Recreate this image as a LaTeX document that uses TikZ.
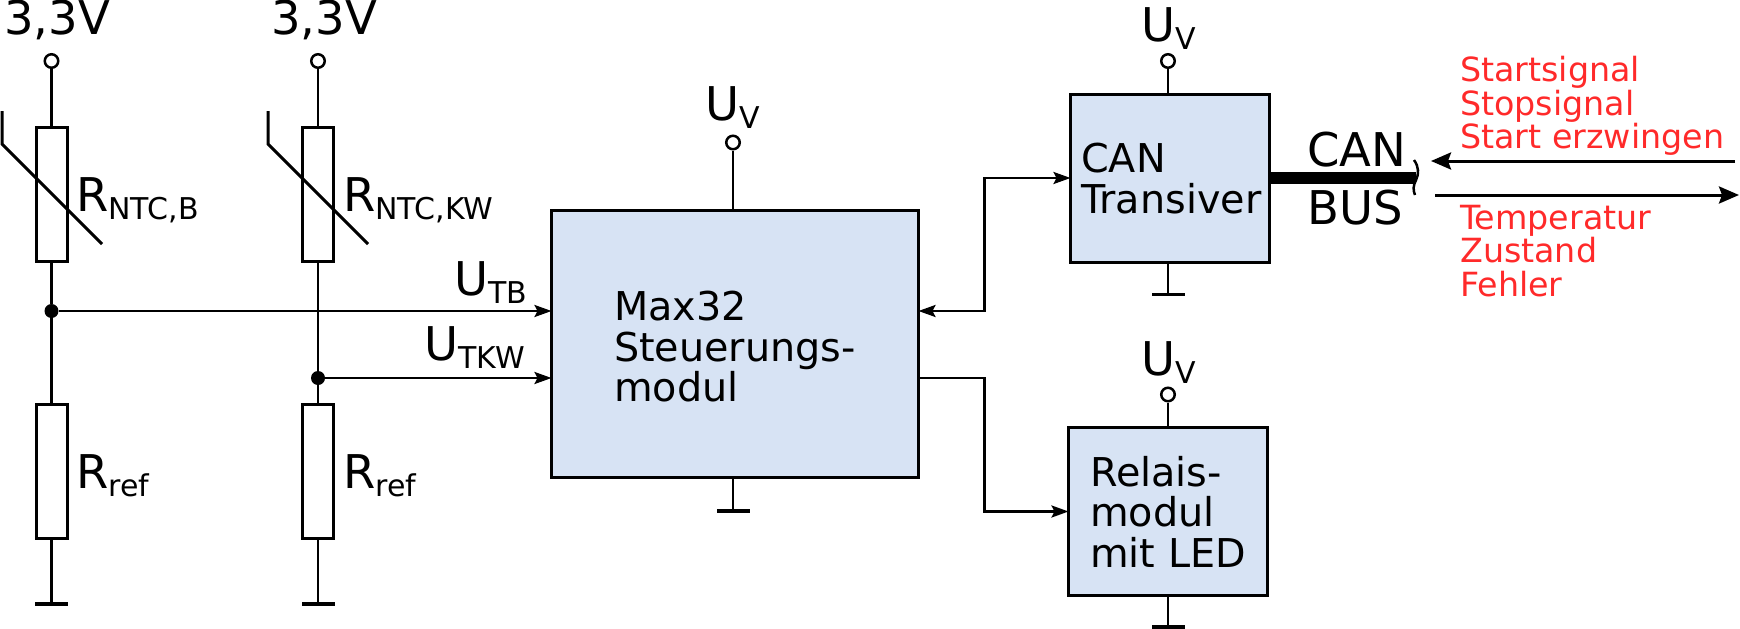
\documentclass[tikz,border=0pt]{standalone}
\usepackage{fontspec}
\setmainfont{DejaVu Sans}
\usetikzlibrary{arrows.meta,positioning,calc}
\definecolor{boxblue}{HTML}{D7E3F4}
\definecolor{sigred}{HTML}{FF2A2A}
\newcommand{\bigfont}{\fontsize{46.5}{46.5}\selectfont}
\newcommand{\boxfont}{\fontsize{39.7}{40.5}\selectfont}
\newcommand{\sigfont}{\fontsize{33.3}{33.5}\selectfont}
\newcommand{\lowidx}[1]{\raisebox{-8pt}{\fontsize{30}{30}\selectfont #1}}
\tikzset{
  wire/.style={line width=2.5pt},
  sig/.style={wire, -{Stealth[length=17pt,width=12pt,inset=3pt]}},
  res/.style={draw, line width=3pt, minimum width=31pt, minimum height=134pt, inner sep=0, outer sep=0},
  term/.style={circle, draw, fill=white, line width=2.5pt, minimum size=13.5pt, inner sep=0},
  dot/.style={circle, fill=black, minimum size=14pt, inner sep=0},
  gnd/.style={fill=black, minimum width=33pt, minimum height=3.5pt, inner sep=0, outer sep=0},
  block/.style={draw, fill=boxblue, line width=3pt, inner sep=0, outer sep=0},
  lbl/.style={anchor=base west, inner sep=0, font=\bigfont},
  boxtxt/.style={anchor=north west, inner sep=0, align=left, font=\boxfont},
  redtxt/.style={anchor=north west, inner sep=0, align=left, font=\sigfont, text=sigred}
}
\begin{document}
\begin{tikzpicture}[x=1pt,y=-1pt]
    \useasboundingbox (0,0) rectangle (1740,629);
    % Left divider
    \node[term] (v1) at (51.5,61) {};
    \node[res] (ntc1) at (51.5,194.5) {};
    \node[dot] (j1) at (51.5,311) {};
    \node[res] (ref1) at (51.5,471) {};
    \node[gnd] (g1) at (51.5,604) {};
    \draw[wire] (v1) -- (ntc1.north);
    \draw[wire] (ntc1.south) -- (j1) -- (ref1.north);
    \draw[wire] (ref1.south) -- (g1);
    \draw[line width=3pt] (2,111) -- (2,144) -- (102,244);
    \node[lbl] (v1txt) at (4,34) {3,3V};
    \node[lbl] (ntc1txt) at (76,211) {R\lowidx{NTC,B}};
    \node[lbl] (ref1txt) at (76,488) {R\lowidx{ref}};
    % Right divider
    \node[term] (v2) at (318,61) {};
    \node[res] (ntc2) at (318,194.5) {};
    \node[dot] (j2) at (318,378) {};
    \node[res] (ref2) at (318,471) {};
    \node[gnd] (g2) at (318,604) {};
    \draw[wire] (v2) -- (ntc2.north);
    \draw[wire] (ntc2.south) -- (j2) -- (ref2.north);
    \draw[wire] (ref2.south) -- (g2);
    \draw[line width=3pt] (268,111) -- (268,144) -- (368,244);
    \node[lbl] (v2txt) at (271,34) {3,3V};
    \node[lbl] (ntc2txt) at (343,211) {R\lowidx{NTC,KW}};
    \node[lbl] (ref2txt) at (343,488) {R\lowidx{ref}};
    % Controller
    \node[block, minimum width=367pt, minimum height=267pt] (max) at (735,344) {};
    \node[boxtxt] (maxtxt) at (614,291) {Max32\\Steuerungs-\\modul};
    \node[term] (v3) at (733,142.5) {};
    \node[gnd] (g3) at (733,511) {};
    \draw[wire] (v3) -- (v3 |- max.north);
    \draw[wire] (v3 |- max.south) -- (g3);
    \node[lbl] (v3txt) at (705,120) {U\lowidx{V}};
    \coordinate (maxtb) at (max.west |- j1);
    \coordinate (maxtkw) at (max.west |- j2);
    \draw[sig] (j1) -- (maxtb);
    \draw[sig] (j2) -- (maxtkw);
    \node[lbl] (tbtxt) at (454,295) {U\lowidx{TB}};
    \node[lbl] (tkwtxt) at (424,360) {U\lowidx{TKW}};
    % CAN transceiver
    \node[block, minimum width=199pt, minimum height=168pt] (can) at (1170,178) {};
    \node[boxtxt] (cantxt) at (1081,143) {CAN\\Transiver};
    \node[term] (v4) at (1168,61) {};
    \node[gnd] (g4) at (1168,294.5) {};
    \draw[wire] (v4) -- (v4 |- can.north);
    \draw[wire] (v4 |- can.south) -- (g4);
    \node[lbl] (v4txt) at (1141,41) {U\lowidx{V}};
    % Relay
    \node[block, minimum width=199pt, minimum height=168pt] (rel) at (1168,511.5) {};
    \node[boxtxt] (reltxt) at (1090,456) {Relais-\\modul\\mit LED};
    \node[term] (v5) at (1168,394.5) {};
    \node[gnd] (g5) at (1168,627) {};
    \draw[wire] (v5) -- (v5 |- rel.north);
    \draw[wire] (v5 |- rel.south) -- (g5);
    \node[lbl] (v5txt) at (1141,375) {U\lowidx{V}};
    % Links between blocks
    \coordinate (maxcan) at (max.east |- j1);
    \coordinate (maxrel) at (max.east |- j2);
    \draw[wire, {Stealth[length=17pt,width=12pt,inset=3pt]}-{Stealth[length=17pt,width=12pt,inset=3pt]}] (maxcan) -- ++(66,0) |- (can.west);
    \draw[sig] (maxrel) -- ++(66,0) |- (rel.west);
    % Bus
    \coordinate (busend) at (1416,178);
    \draw[line width=12pt] (can.east) -- (busend);
    \draw[line width=2.5pt] (1414,160) .. controls (1419,167) and (1419,174) .. (1416,180) .. controls (1413,186) and (1413,190) .. (1415,195);
    \node[lbl] (cantop) at (1307,166) {CAN};
    \node[lbl] (canbot) at (1307,224) {BUS};
    % Signals
    \coordinate (inr) at (1735,161);
    \coordinate (inl) at (1431,161);
    \coordinate (outl) at (1435,195);
    \coordinate (outr) at (1739,195);
    \draw[line width=3pt, -{Stealth[length=20pt,width=17pt,inset=3pt]}] (inr) -- (inl);
    \draw[line width=3pt, -{Stealth[length=20pt,width=17pt,inset=3pt]}] (outl) -- (outr);
    \node[redtxt] (rxtxt) at (1460,56) {Startsignal\\Stopsignal\\Start erzwingen};
    \node[redtxt] (txtxt) at (1460,205) {Temperatur\\Zustand\\Fehler};
\end{tikzpicture}
\end{document}
